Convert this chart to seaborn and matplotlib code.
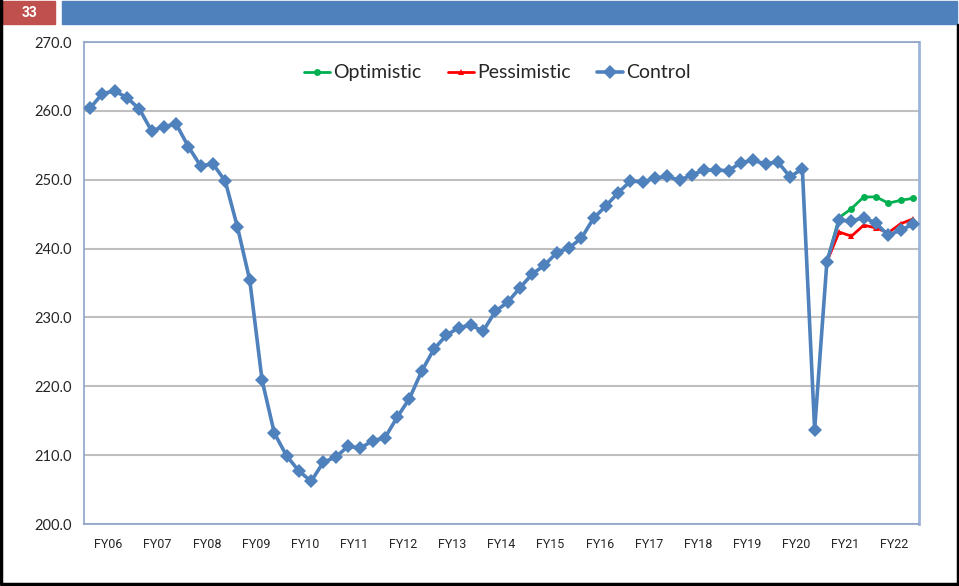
import numpy as np
import pandas as pd
import matplotlib
matplotlib.use("Agg")
import matplotlib.pyplot as plt
from matplotlib.patches import Rectangle
from matplotlib.lines import Line2D
import seaborn as sns

# quarterly series FY06 Q1 .. FY22 Q4
years = ['FY06', 'FY07', 'FY08', 'FY09', 'FY10', 'FY11', 'FY12', 'FY13', 'FY14',
         'FY15', 'FY16', 'FY17', 'FY18', 'FY19', 'FY20', 'FY21', 'FY22']

control = [260.4, 262.5, 262.9, 261.9, 260.3, 257.1, 257.7, 258.1,
           254.8, 252.0, 252.3, 249.8, 243.1, 235.4, 220.9, 213.2,
           209.9, 207.7, 206.2, 209.0, 209.7, 211.3, 211.0, 212.1,
           212.5, 215.5, 218.2, 222.2, 225.4, 227.4, 228.5, 228.9,
           228.0, 230.9, 232.2, 234.3, 236.3, 237.6, 239.4, 240.1,
           241.5, 244.4, 246.2, 248.1, 249.8, 249.7, 250.2, 250.5,
           249.9, 250.7, 251.4, 251.4, 251.3, 252.5, 252.8, 252.3,
           252.6, 250.4, 251.6, 213.7, 238.1, 244.1, 244.0, 244.5,
           243.7, 241.9, 242.7, 243.5]

# scenarios branch off at quarter 60 (FY21 Q1)
scen_start = 60
optimistic = [238.1, 244.5, 245.8, 247.5, 247.5, 246.6, 247.0, 247.3]
pessimistic = [238.1, 242.4, 241.8, 243.4, 243.0, 242.3, 243.6, 244.3]

q = np.arange(len(control))
q_scen = np.arange(scen_start, scen_start + len(optimistic))

sns.set_style("white")
plt.rcParams['font.family'] = ['Lato', 'DejaVu Sans']

fig = plt.figure(figsize=(9.59, 5.86), dpi=100)
ax = fig.add_axes([84 / 959, 1 - 524 / 586, (919 - 84) / 959, (524 - 42) / 586])

sns.lineplot(x=q_scen, y=optimistic, ax=ax, color='#00B050', lw=2, marker='o',
             markersize=5, markeredgewidth=0, label='Optimistic', zorder=3)
sns.lineplot(x=q_scen, y=pessimistic, ax=ax, color='#FF0000', lw=2, marker='^',
             markersize=5, markeredgewidth=0, label='Pessimistic', zorder=3)
sns.lineplot(x=q, y=control, ax=ax, color='#4F81BD', lw=2.6, marker='D',
             markersize=6.8, markeredgewidth=0, label='Control', zorder=4)

ax.set_xlim(-0.5, len(control) - 0.5)
ax.set_ylim(200, 270)
ax.set_yticks(np.arange(200, 271, 10))
ax.set_yticklabels([f'{v:.1f}' for v in np.arange(200, 271, 10)], fontsize=10.5)
ax.set_xticks(np.arange(len(years)) * 4 + 1.5)
ax.set_xticklabels(years, fontsize=9, family=['Roboto', 'DejaVu Sans'])
ax.tick_params(length=0, pad=9)
ax.tick_params(axis='x', pad=10)
ax.yaxis.grid(True, color='#BFBFBF', lw=1.5)
ax.set_axisbelow(True)
for s in ax.spines.values():
    s.set_color('#8EA3C8')
    s.set_linewidth(1.2)
ax.spines['right'].set_color('#9DB4DC')
ax.spines['right'].set_linewidth(2)

ax.legend(loc='upper center', bbox_to_anchor=(0.495, 1.0), ncol=3, frameon=False,
          fontsize=14, handlelength=1.35, handletextpad=0.15, columnspacing=1.35,
          borderaxespad=0.75)

# slide header and border
fig.patches.append(Rectangle((3 / 959, 1 - 24 / 586), 52 / 959, 23 / 586,
                             transform=fig.transFigure, color='#C0504D', zorder=0))
fig.patches.append(Rectangle((62 / 959, 1 - 24 / 586), 895 / 959, 23 / 586,
                             transform=fig.transFigure, color='#4F81BD', zorder=0))
fig.text(29 / 959, 1 - 13 / 586, '33', color='white', fontsize=10, weight='bold',
         ha='center', va='center', family=['Roboto', 'DejaVu Sans'])
fig.lines.append(Line2D([1 / 959, 1 / 959, 957.5 / 959, 957.5 / 959],
                        [1, 2.5 / 586, 2.5 / 586, 1 - 25 / 586],
                        transform=fig.transFigure, color='black', lw=2.5))

fig.savefig('out.png', dpi=100)
